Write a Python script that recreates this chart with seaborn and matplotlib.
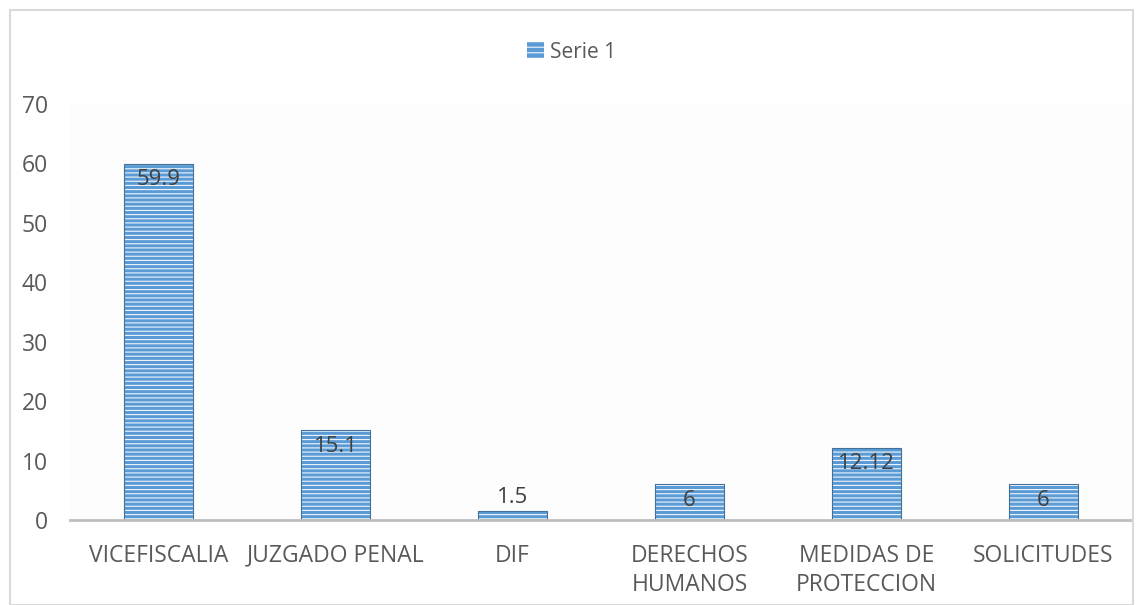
import numpy as np
import pandas as pd
import seaborn as sns
import matplotlib.pyplot as plt
from matplotlib.patches import Rectangle, Patch

categories = ['VICEFISCALIA', 'JUZGADO PENAL', 'DIF', 'DERECHOS\nHUMANOS',
              'MEDIDAS DE\nPROTECCION', 'SOLICITUDES']
values = [59.9, 15.1, 1.5, 6, 12.12, 6]
labels = ['59.9', '15.1', '1.5', '6', '12.12', '6']

df = pd.DataFrame({'cat': categories, 'val': values})

sns.set_theme(style='white')
plt.rcParams['font.family'] = ['Open Sans', 'DejaVu Sans']
plt.rcParams['hatch.linewidth'] = 0.8

text_col = '#595959'
fig = plt.figure(figsize=(11.43, 6.05), dpi=100)
ax = fig.add_axes([70 / 1143, 1 - 520 / 605, 1062 / 1143, 416 / 605])

sns.barplot(data=df, x='cat', y='val', ax=ax, color='#5B9BD5', width=0.385,
            saturation=1, linewidth=0)

# white horizontal stripes over the blue bars, plus a darker outline
for p in list(ax.patches):
    x, w, h = p.get_x(), p.get_width(), p.get_height()
    ax.add_patch(Rectangle((x, 0), w, h, facecolor='none', edgecolor='#F0F5FA',
                           hatch='----', linewidth=0, zorder=p.get_zorder() + 0.1))
    ax.add_patch(Rectangle((x, 0), w, h, facecolor='none', edgecolor='#41719C',
                           linewidth=0.8, zorder=p.get_zorder() + 0.2))

for i, (v, lab) in enumerate(zip(values, labels)):
    if v > 4:
        ax.text(i, v - 0.9, lab, ha='center', va='top', fontsize=16, color='#404040', zorder=5)
    else:
        ax.text(i, v + 0.5, lab, ha='center', va='bottom', fontsize=16, color='#404040', zorder=5)

ax.set_ylim(0, 70)
ax.set_xlim(-0.5, 5.5)
ax.set_yticks(range(0, 71, 10))
ax.set_xlabel('')
ax.set_ylabel('')
ax.tick_params(axis='both', length=0, labelsize=16.5, colors=text_col)
ax.tick_params(axis='y', pad=16)
ax.tick_params(axis='x', pad=17)
for t in ax.get_xticklabels():
    t.set_linespacing(1.3)
for s in ['top', 'right', 'left']:
    ax.spines[s].set_visible(False)
ax.spines['bottom'].set_color('#BFBFBF')
ax.spines['bottom'].set_linewidth(2)
ax.set_facecolor('#FDFDFD')

handle = Patch(facecolor='#5B9BD5', edgecolor='#F0F5FA', hatch='---', linewidth=0)
fig.legend([handle], ['Serie 1'], loc='center', bbox_to_anchor=(0.5, 1 - 52 / 605),
           frameon=False, fontsize=15, labelcolor=text_col, handlelength=0.8,
           handleheight=0.8, handletextpad=0.3)

fig.add_artist(Rectangle((10 / 1143, 0), 1123 / 1143, 1 - 10 / 605, transform=fig.transFigure,
                         facecolor='none', edgecolor='#D9D9D9', linewidth=1.5))

fig.savefig('out.png', dpi=100)
